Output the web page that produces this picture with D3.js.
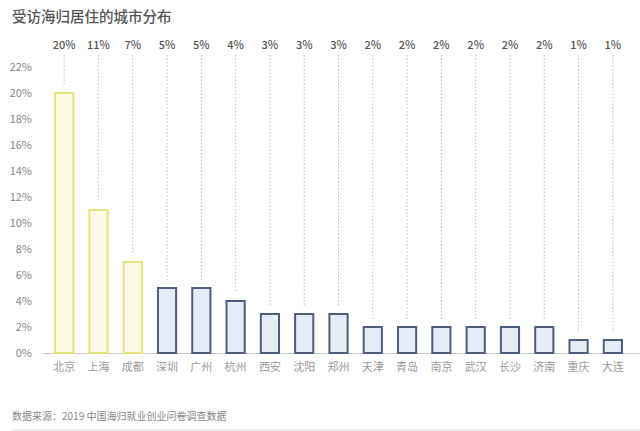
<!DOCTYPE html>
<html><head><meta charset="utf-8">
<script src="https://cdn.jsdelivr.net/npm/d3@7"></script>
<style>body{margin:0;background:#fff}svg{display:block}</style>
</head><body>
<svg id="c" width="640" height="431"></svg>
<script>
const cities = ["北京","上海","成都","深圳","广州","杭州","西安","沈阳","郑州","天津","青岛","南京","武汉","长沙","济南","重庆","大连"];
const values = [20,11,7,5,5,4,3,3,3,2,2,2,2,2,2,1,1];
const highlight = ["北京","上海","成都"];
const yTicks = [0,2,4,6,8,10,12,14,16,18,20,22];
const title = "受访海归居住的城市分布";
const source = "数据来源：2019 中国海归就业创业问卷调查数据";

const svg = d3.select("#c");
const font = "'Noto Sans CJK SC','Noto Sans',sans-serif";
const y = d3.scaleLinear().domain([0,22]).range([353,67]);
const x = d3.scaleBand().domain(cities).range([47,630]).paddingInner(0.47).paddingOuter(0.235);

svg.append("text").attr("x",12).attr("y",22).attr("font-family",font).attr("font-size",14.5)
  .attr("font-weight",500).attr("fill","#555").text(title);

const yAxis = d3.axisLeft(y).tickValues(yTicks).tickFormat(d=>d+"%").tickSize(0).tickPadding(0);
const ga = svg.append("g").attr("transform","translate(32,0)").call(yAxis);
ga.select(".domain").remove();
ga.selectAll("text").attr("font-family",font).attr("font-size",11).attr("fill","#888");

svg.append("line").attr("x1",42).attr("x2",640).attr("y1",y(0)+0.5).attr("y2",y(0)+0.5)
  .attr("stroke","#ccc").attr("stroke-width",1.2);

const g = svg.append("g");
g.selectAll(".dot").data(cities).join("line")
  .attr("x1",d=>x(d)+x.bandwidth()/2).attr("x2",d=>x(d)+x.bandwidth()/2)
  .attr("y1",55).attr("y2",(d,i)=>y(values[i])-8)
  .attr("stroke","#bbb").attr("stroke-width",1).attr("stroke-dasharray","1.5,2");

g.selectAll(".bar").data(cities).join("rect")
  .attr("x",d=>x(d)).attr("width",x.bandwidth())
  .attr("y",(d,i)=>y(values[i])).attr("height",(d,i)=>y(0)-y(values[i]))
  .attr("fill",d=>highlight.includes(d)?"#fdfbe6":"#e6ecf6")
  .attr("stroke",d=>highlight.includes(d)?"#e6e27e":"#4d5d7c")
  .attr("stroke-width",2);

g.selectAll(".val").data(cities).join("text")
  .attr("x",d=>x(d)+x.bandwidth()/2).attr("y",49).attr("text-anchor","middle")
  .attr("font-family",font).attr("font-size",11).attr("font-weight",500).attr("fill","#555")
  .text((d,i)=>values[i]+"%");

const xAxis = d3.axisBottom(x).tickSize(0).tickPadding(0);
const gx = svg.append("g").attr("transform","translate(0,362)").call(xAxis);
gx.select(".domain").remove();
gx.selectAll("text").attr("font-family",font).attr("font-size",11).attr("fill","#999").attr("dy","0.8em");

svg.append("text").attr("x",12).attr("y",420).attr("font-family",font).attr("font-size",10)
  .attr("fill","#888").text(source);
svg.append("line").attr("x1",12).attr("x2",640).attr("y1",430).attr("y2",430)
  .attr("stroke","#ddd").attr("stroke-width",1);
</script>
</body></html>
